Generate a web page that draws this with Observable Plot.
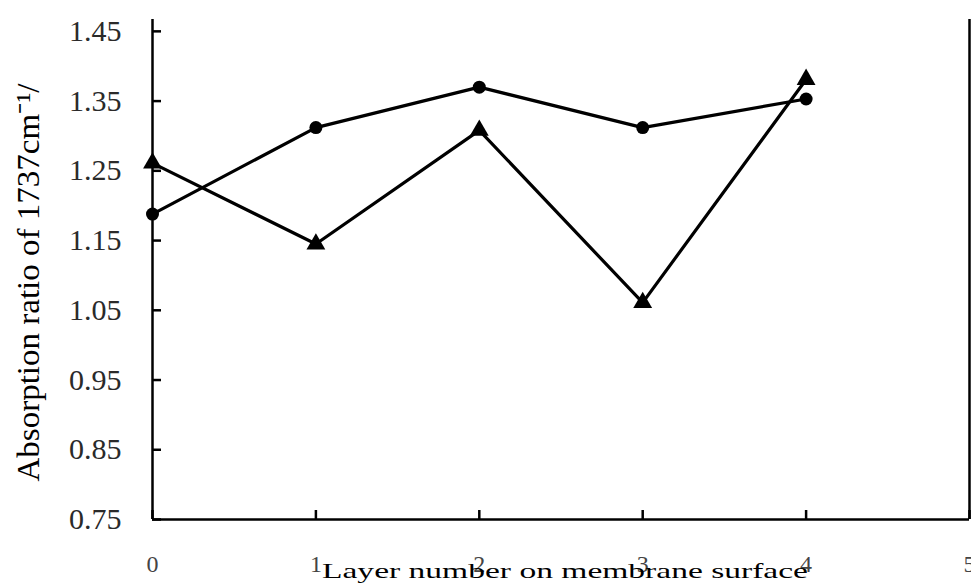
<!DOCTYPE html>
<html><head><meta charset="utf-8">
<script src="https://cdn.jsdelivr.net/npm/d3@7"></script>
<script src="https://cdn.jsdelivr.net/npm/@observablehq/plot@0.6"></script>
<style>body{margin:0;background:#fff}</style>
</head><body><div id="chart"></div>
<script>
const layers = [0, 1, 2, 3, 4];
const circleSeries = [1.188, 1.312, 1.370, 1.312, 1.353];
const triangleSeries = [1.261, 1.145, 1.308, 1.061, 1.381];
const xTicks = [0, 1, 2, 3, 4, 5];
const yTicks = [0.75, 0.85, 0.95, 1.05, 1.15, 1.25, 1.35, 1.45];
const xTitle = "Layer number on membrane surface";
const yTitle = "Absorption ratio of 1737cm⁻¹/";

const circles = layers.map((x, i) => ({x, y: circleSeries[i]}));
const triangles = layers.map((x, i) => ({x, y: triangleSeries[i]}));

const chart = Plot.plot({
  width: 971, height: 586,
  marginLeft: 152, marginRight: 2, marginTop: 19, marginBottom: 67,
  style: {fontFamily: "'Liberation Serif', serif", background: "#fff", overflow: "visible"},
  x: {domain: [0, 5], axis: null},
  y: {domain: [0.75, 1.467], axis: null},
  marks: [
    Plot.axisY(yTicks, {tickSize: 0, tickPadding: 31, fontSize: 30, tickFormat: d3.format(".2f"), fill: "#2a2a2a", label: null}),
    Plot.text(xTicks, {x: d => d, y: () => 0.75, text: d => String(d), dy: 45, lineAnchor: "middle", fontSize: 24, fill: "#444"}),
    Plot.ruleY(yTicks, {y: d => d, x1: () => 0, x2: () => 0, insetRight: -9, stroke: "#000", strokeWidth: 2.5}),
    Plot.ruleX(xTicks, {x: d => d, y1: () => 0.75, y2: () => 0.75, insetBottom: 9, stroke: "#000", strokeWidth: 2.5}),
    Plot.ruleX([0, 5], {stroke: "#000", strokeWidth: 2.5}),
    Plot.ruleY([0.75], {stroke: "#000", strokeWidth: 2.5}),
    Plot.line(circles, {x: "x", y: "y", stroke: "#000", strokeWidth: 3.2}),
    Plot.line(triangles, {x: "x", y: "y", stroke: "#000", strokeWidth: 3.2}),
    Plot.dot(circles, {x: "x", y: "y", r: 6.5, fill: "#000", symbol: "circle"}),
    Plot.dot(triangles, {x: "x", y: "y", r: 7, fill: "#000", symbol: "triangle"}),
    Plot.text([xTitle], {frameAnchor: "bottom", dx: 4, dy: 52, lineAnchor: "middle", textAnchor: "middle", fontSize: 21, fill: "#000"}),
    Plot.text([yTitle], {frameAnchor: "left", rotate: -90, dx: -124, dy: 13, lineAnchor: "middle", textAnchor: "middle", fontSize: 32, fill: "#000"})
  ]
});
document.getElementById("chart").appendChild(chart);
const tickStrings = xTicks.map(String);
d3.select(chart).selectAll("text").each(function() {
  const t = this.textContent;
  if (t === xTitle) d3.select(this).attr("textLength", 486).attr("lengthAdjust", "spacingAndGlyphs");
  else if (t === yTitle) d3.select(this).attr("textLength", 398).attr("lengthAdjust", "spacingAndGlyphs");
  else if (tickStrings.includes(t)) d3.select(this).style("font-size", "24px");
});
</script>
</body></html>
